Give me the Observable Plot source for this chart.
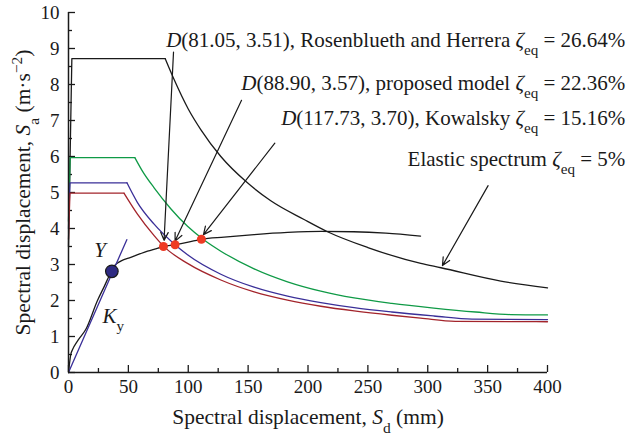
<!DOCTYPE html>
<html><head><meta charset="utf-8">
<script src="https://cdn.jsdelivr.net/npm/d3@7"></script>
<script src="https://cdn.jsdelivr.net/npm/@observablehq/plot@0.6"></script>
<style>
body{margin:0;background:#fff;}
</style></head><body><div id="chart"></div>
<script>
// Elastic spectrum (5%): rise + plateau, then descending branch
const elasticSd = [0, 2.8, 80.7, 88, 100, 110.6, 127.2, 148, 168.9, 196.7, 216.3, 250, 294.2, 311, 361, 400];
const elasticSa = [3.5, 8.72, 8.72, 8.15, 7.32, 6.74, 6.0, 5.31, 4.77, 4.25, 3.91, 3.47, 3.03, 2.91, 2.54, 2.35];
// Kowalsky (15.16%)
const kowSd = [0, 1.4, 55.4, 62, 71.5, 85.4, 99.4, 113.2, 127.2, 155, 182.9, 210.7, 238.5, 270, 305, 340, 369, 400];
const kowSa = [4.2, 5.97, 5.97, 5.58, 5.13, 4.55, 4.06, 3.68, 3.37, 2.88, 2.52, 2.26, 2.07, 1.92, 1.79, 1.68, 1.61, 1.6];
// Proposed model (22.36%)
const propSd = [0, 1.2, 48.8, 57.6, 71.5, 89, 99.4, 127.2, 155, 182.9, 210.7, 238.5, 270, 305, 337, 400];
const propSa = [4.0, 5.27, 5.27, 4.72, 4.12, 3.55, 3.27, 2.73, 2.37, 2.12, 1.94, 1.8, 1.68, 1.57, 1.48, 1.47];
// Rosenblueth and Herrera (26.64%)
const rosSd = [0, 1.2, 46.4, 57.6, 71.5, 79.3, 99.4, 127.2, 155, 182.9, 210.7, 238.5, 270, 294, 323, 400];
const rosSa = [3.7, 4.98, 4.98, 4.4, 3.8, 3.51, 3.03, 2.57, 2.24, 2.01, 1.84, 1.71, 1.59, 1.51, 1.42, 1.41];
// Capacity curve
const capSd = [0, 0.5, 1.9, 3.3, 8, 14.5, 24.2, 30, 35.3, 38, 41, 44, 52, 60, 66, 72, 79.3, 89, 100, 111, 130, 155, 183, 211, 238, 265, 294];
const capSa = [0, 0.15, 0.5, 0.63, 0.9, 1.2, 2.0, 2.4, 2.78, 2.95, 3.04, 3.1, 3.2, 3.3, 3.37, 3.43, 3.5, 3.55, 3.62, 3.7, 3.76, 3.83, 3.89, 3.92, 3.91, 3.87, 3.79];
// Ky line
const kySd = [0, 48.7];
const kySa = [0, 3.69];
// Yield point
const yieldSd = [36.2];
const yieldSa = [2.81];
// Performance points (as drawn)
const perfSd = [79.3, 89, 111];
const perfSa = [3.5, 3.55, 3.7];
// Annotation texts
const labelText = [
  "D(81.05, 3.51), Rosenblueth and Herrera ζeq = 26.64%",
  "D(88.90, 3.57), proposed model ζeq = 22.36%",
  "D(117.73, 3.70), Kowalsky ζeq = 15.16%",
  "Elastic spectrum ζeq = 5%"
];
const labelX = [465, 465, 465, 465];
const labelY = [9.22, 8.03, 7.06, 5.92];
// Arrows
const arrowX1 = [87.7, 144.5, 172.3, 350.4];
const arrowY1 = [8.9, 7.56, 6.37, 5.19];
const arrowX2 = [79.8, 89, 112.7, 312.3];
const arrowY2 = [3.67, 3.65, 3.83, 2.97];
// Small labels
const smallText = ["Y", "Ky"];
const smallX = [21.4, 28.4];
const smallY = [3.39, 1.56];
// Ticks
const xMajor = [0, 50, 100, 150, 200, 250, 300, 350, 400];
const xMinor = [25, 75, 125, 175, 225, 275, 325, 375];
const yMajor = [0, 1, 2, 3, 4, 5, 6, 7, 8, 9, 10];
const yMinor = [0.5, 1.5, 2.5, 3.5, 4.5, 5.5, 6.5, 7.5, 8.5, 9.5];

const zip = (xs, ys) => xs.map((x, i) => ({x, y: ys[i]}));
const spectra = [
  {d: zip(elasticSd, elasticSa), c: "#1a1a1a"},
  {d: zip(kowSd, kowSa), c: "#0f9a46"},
  {d: zip(propSd, propSa), c: "#3a2f98"},
  {d: zip(rosSd, rosSa), c: "#a3242b"}
];
const labels = labelText.map((t, i) => ({t, x: labelX[i], y: labelY[i]}));
const arrows = arrowX1.map((x1, i) => ({x1, y1: arrowY1[i], x2: arrowX2[i], y2: arrowY2[i]}));
const smalls = smallText.map((t, i) => ({t, x: smallX[i], y: smallY[i]}));

const plot = Plot.plot({
  width: 627, height: 434,
  marginLeft: 68, marginRight: 80, marginTop: 12, marginBottom: 62,
  x: {domain: [0, 400]},
  y: {domain: [0, 10]},
  style: {fontFamily: "'Liberation Serif', serif", fontSize: "19px", color: "#1a1a1a", background: "#fff", overflow: "visible"},
  marks: [
    Plot.axisX({ticks: xMajor, tickSize: 0, tickPadding: 7, fontSize: 19, tickFormat: d => String(d),
      label: "Spectral displacement, Sd (mm)", labelAnchor: "center", labelArrow: "none", labelOffset: 51}),
    Plot.axisX({ticks: xMajor, tickSize: -7, text: null, label: null, strokeWidth: 1.3}),
    Plot.axisX({ticks: xMinor, tickSize: -4, text: null, label: null, strokeWidth: 1.3}),
    Plot.axisY({ticks: yMajor, tickSize: 0, tickPadding: 9, fontSize: 19, tickFormat: d => String(d),
      label: "Spectral displacement, Sa (m·s−2)", labelAnchor: "center", labelArrow: "none", labelOffset: 54}),
    Plot.axisY({ticks: yMajor, tickSize: -7, text: null, label: null, strokeWidth: 1.3}),
    Plot.axisY({ticks: yMinor, tickSize: -4, text: null, label: null, strokeWidth: 1.3}),
    // rise + plateau (straight), descending branch (smooth)
    ...spectra.map(s => Plot.line(s.d.slice(0, 3), {x: "x", y: "y", stroke: s.c, strokeWidth: 1.3})),
    ...spectra.map(s => Plot.line(s.d.slice(2), {x: "x", y: "y", stroke: s.c, strokeWidth: 1.3, curve: "monotone-x"})),
    Plot.line(zip(capSd, capSa), {x: "x", y: "y", stroke: "#1a1a1a", strokeWidth: 1.3, curve: "monotone-x"}),
    Plot.line(zip(kySd, kySa), {x: "x", y: "y", stroke: "#3a2f98", strokeWidth: 1.3}),
    Plot.ruleY([0], {stroke: "#1a1a1a", strokeWidth: 1.5}),
    Plot.ruleX([0], {stroke: "#1a1a1a", strokeWidth: 1.5}),
    Plot.arrow(arrows, {x1: "x1", y1: "y1", x2: "x2", y2: "y2", stroke: "#1a1a1a", strokeWidth: 1.2, headLength: 11, headAngle: 50}),
    Plot.dot(zip(perfSd, perfSa), {x: "x", y: "y", r: 4.5, fill: "#ee3a24", stroke: "none"}),
    Plot.dot(zip(yieldSd, yieldSa), {x: "x", y: "y", r: 6.3, fill: "#2e2a82", stroke: "#1a1a1a", strokeWidth: 1.2}),
    Plot.text(labels, {x: "x", y: "y", text: "t", textAnchor: "end", fontSize: 21, fill: "#1a1a1a"}),
    Plot.text(smalls, {x: "x", y: "y", text: "t", textAnchor: "start", fontSize: 21, fill: "#1a1a1a"})
  ]
});

const sub = t => `<tspan baseline-shift="sub" style="font-size:72%;font-style:normal">${t}</tspan>`;
const sup = t => `<tspan baseline-shift="super" style="font-size:72%">${t}</tspan>`;
const ital = t => `<tspan style="font-style:italic">${t}</tspan>`;
function rich(s) {
  return s
    .replace(/\s*[→↑]\s*/g, "")
    .replace(/ζeq/g, ital("ζ") + sub("eq"))
    .replace(/^D\(/, ital("D") + "(")
    .replace(/, Sd /, ", " + ital("S") + sub("d") + " ")
    .replace(/, Sa /, ", " + ital("S") + sub("a") + " ")
    .replace(/s−2\)/, "s" + sup("−2") + ")")
    .replace(/^Ky$/, ital("K") + sub("y"))
    .replace(/^Y$/, ital("Y"));
}
d3.select(plot).selectAll("g[aria-label$='axis label'] text").each(function() {
  this.setAttribute("font-size", 21.5);
});
d3.select(plot).selectAll("text").each(function() {
  if (/ζeq|^Ky$|^Y$|, S[ad] /.test(this.textContent)) this.innerHTML = rich(this.textContent);
});
document.getElementById("chart").append(plot);
</script></body></html>
